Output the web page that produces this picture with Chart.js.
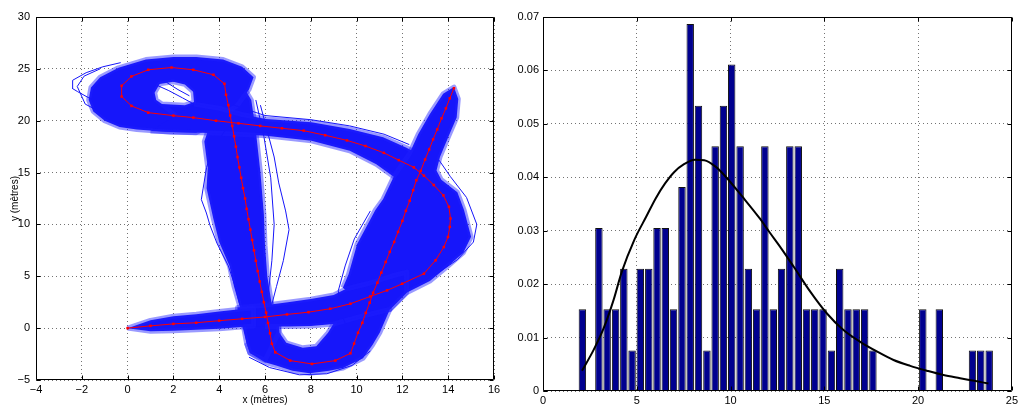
<!DOCTYPE html>
<html>
<head>
<meta charset="utf-8">
<title>Trajectoires et distribution</title>
<script src="https://cdn.jsdelivr.net/npm/chart.js@4.4.1/dist/chart.umd.min.js"></script>
<style>
  html, body { margin: 0; padding: 0; background: #ffffff; }
  #wrap { position: relative; width: 1021px; height: 406px; overflow: hidden; }
  .pane { position: absolute; top: 0; height: 406px; }
</style>
</head>
<body>
<div id="wrap">
  <div class="pane" style="left:0;width:510px"><canvas id="traj" width="510" height="406"></canvas></div>
  <div class="pane" style="left:510px;width:511px"><canvas id="hist" width="511" height="406"></canvas></div>
</div>
<script>
// ---------- Left panel: reference path (metres) ----------
const pathX = [0, 1.0, 2.0, 3.0, 4.0, 5.0, 6.0, 6.96, 7.9, 8.85, 9.73, 10.6, 11.33, 11.99, 12.94, 13.45, 13.81, 13.99, 14.07, 14.1, 14.03, 13.79, 13.37, 12.94, 12.5, 11.84, 11.19, 10.39, 9.58, 8.63, 7.69, 6.74, 5.79, 4.84, 3.86, 2.87, 2.0, 0.9, 0.17, -0.26, -0.26, 0.17, 0.9, 1.92, 2.87, 3.75, 4.23,
  4.3, 4.4, 4.48, 4.57, 4.65, 4.73, 4.8, 4.88, 4.96, 5.04, 5.13, 5.2, 5.28, 5.36, 5.44, 5.52, 5.6, 5.68, 5.77, 5.86, 5.95, 6.05, 6.13, 6.22, 6.3, 6.45,
  7.1, 8.05, 9.07, 9.73,
  9.89, 10.06, 10.25, 10.4, 10.57, 10.72, 10.91, 11.08, 11.27, 11.45, 11.64, 11.81, 12.0, 12.15, 12.32, 12.47, 12.61, 12.8, 12.99, 13.17, 13.34, 13.52, 13.71, 13.9, 14.07, 14.25];
const pathY = [0, 0.22, 0.41, 0.52, 0.72, 0.9, 1.08, 1.32, 1.54, 1.87, 2.35, 3.06, 3.64, 4.28, 5.25, 6.54, 7.82, 8.79, 9.76, 10.57, 11.7, 12.8, 13.8, 14.7, 15.5, 16.2, 16.9, 17.56, 18.1, 18.6, 19.04, 19.27, 19.5, 19.75, 20.0, 20.3, 20.49, 20.78, 21.43, 22.33, 23.37, 24.27, 24.91, 25.13, 24.91, 24.43, 23.56,
  22.5, 21.5, 20.5, 19.5, 18.5, 17.5, 16.5, 15.5, 14.5, 13.5, 12.5, 11.5, 10.5, 9.5, 8.5, 7.5, 6.5, 5.5, 4.5, 3.5, 2.5, 1.5, 0.5, -0.5, -1.5, -2.33,
  -3.13, -3.45, -3.13, -2.43,
  -1.49, -0.45, 0.51, 1.48, 2.45, 3.41, 4.38, 5.35, 6.38, 7.35, 8.31, 9.28, 10.34, 11.31, 12.28, 13.3, 14.26, 15.17, 16.26, 17.23, 18.2, 19.16, 20.23, 21.19, 22.16, 23.13];

// Envelopes of the simulated trajectories, [x, y] in metres
const bandStart = [[0, 0], [1, 0.75], [2, 1.15], [3, 1.35], [4, 1.6], [5, 1.85], [5.5, 1.95], [5.5, 0.2], [4, -0.05], [3, -0.15], [2, -0.25], [1, -0.3], [0, 0]];
const bandBottom = [[4.8, 0.2], [4.8, 2.0], [6, 2.2], [7, 2.5], [8, 2.8], [9, 3.2], [9.5, 3.75], [10.5, 4.3], [11.5, 5.0], [12.2, 5.4], [12.18, 3.41], [11.45, 1.8], [10.3, 1.2], [9, 0.4], [8, 0.2], [7, 0.15], [6, 0.15]];
const bandRight = [[9.4, 3.9], [9.65, 5.2], [10.02, 8.1], [10.82, 11.4], [11.16, 12.44], [11.62, 14.6], [12.3, 16.8], [12.69, 18.7], [13.2, 20.65], [13.78, 22.6], [14.25, 23.25], [14.44, 22.1], [14.37, 20.3], [14.0, 18.4], [13.64, 16.5], [13.49, 15.2], [13.7, 14.3], [14.4, 13.1], [14.69, 11.4], [15.0, 8.8], [14.66, 7.28], [14.0, 6.0], [13.2, 4.54], [12.18, 3.41], [11.45, 1.8], [10.3, 2.3]];
const bandTop = [[2.9, 21.6], [4.0, 21.2], [5.0, 20.6], [6.05, 20.17], [8.03, 19.85], [9.7, 19.2], [11.16, 18.4], [12.18, 17.4], [12.69, 16.8], [12.3, 15.6], [11.62, 14.6], [10.86, 15.8], [9.7, 17.1], [8.03, 18.07], [6.05, 18.56], [4.0, 18.8], [2.0, 18.9], [1.0, 19.0]];
const bandLoopOuter = [[3.0, 18.85], [1.84, 18.9], [0.4, 19.15], [-0.35, 19.4], [-1.0, 20.0], [-1.5, 20.9], [-1.7, 22.0], [-1.6, 23.2], [-1.2, 24.2], [-0.4, 25.1], [0.8, 25.9], [2.0, 26.15], [3.0, 26.15], [4.17, 25.9], [5.0, 25.2], [5.5, 24.2], [5.3, 23.0], [4.8, 21.5], [3.6, 19.6], [3.0, 18.85]];
const bandLoopHole = [[1.5, 21.6], [2.5, 21.5], [2.9, 21.8], [2.86, 22.8], [2.5, 23.5], [2.0, 23.75], [1.4, 23.55], [1.18, 22.7], [1.25, 22.0], [1.5, 21.6]];
const bandDescent = [[4.2, 23.2], [3.6, 19.6], [3.35, 18.0], [3.5, 15.5], [3.45, 13.5], [3.6, 12.0], [3.75, 10.5], [4.0, 8.3], [4.45, 6.0], [4.65, 4.0], [4.9, 2.1], [5.05, 0.3], [5.19, -1.42], [5.34, -2.39], [6.0, -3.1], [6.6, -0.45], [6.6, 0.2], [6.3, 2.2], [6.1, 5], [6.0, 8], [5.95, 11], [5.8, 15], [5.6, 19], [5.4, 22], [5.0, 23.5]];
const bandTurn = [[5.19, -1.42], [5.34, -2.39], [6.0, -3.3], [6.49, -3.6], [7.2, -4.1], [7.95, -4.35], [8.8, -4.1], [9.41, -3.84], [10.28, -2.9], [10.7, -1.6], [11.01, -0.45], [11.45, 1.8], [10.3, 2.3], [9.3, 1.2], [8.97, 0.35], [8.75, -0.45], [8.24, -1.74], [7.65, -1.9], [6.93, -1.42], [6.63, -0.45], [6.6, 0.2], [6.0, 0.3], [5.0, 0.3]];

// A few isolated trajectories outside the dense envelopes
const traceLoopA = [[-1.0, 21.0], [-1.52, 21.99], [-2.18, 22.8], [-2.42, 23.12], [-2.4, 23.9], [-1.81, 24.63], [-1.08, 25.2], [-0.3, 25.6]];
const traceLoopB = [[-0.8, 20.4], [-1.85, 21.6], [-2.2, 23.3], [-1.9, 24.3], [-1.2, 25.0]];
const traceDescL = [[4.3, 19.2], [3.7, 17.2], [3.45, 15.5], [3.3, 13.5], [3.22, 12.4], [3.44, 11.1], [3.6, 9.9], [3.9, 8.2], [4.4, 6.0], [4.7, 4.0], [4.9, 2.2]];
const traceDescR1 = [[5.8, 21.5], [6.1, 19], [6.4, 16.5], [6.6, 14], [6.9, 11.3], [7.05, 9.5], [6.8, 6.5], [6.5, 4], [6.3, 2.3]];
const traceDescR2 = [[5.6, 22], [5.95, 18.5], [6.25, 14.5], [6.4, 10], [6.3, 6.5], [6.15, 3.5]];
const traceHole1 = [[1.3, 23.4], [1.8, 22.9], [2.4, 22.2], [2.9, 21.6]];
const traceHole2 = [[1.7, 23.7], [2.2, 23.0], [2.7, 22.4]];
const traceTopUpper = [[4.5, 21.6], [6, 20.5], [8, 20.1], [9.7, 19.5], [11.2, 18.7], [12.3, 17.7]];
const traceRightOuter = [[13.6, 16.2], [14.1, 14.6], [14.8, 12.6], [15.25, 10.0], [15.1, 8.3], [14.4, 6.6], [13.4, 5.1]];
const traceTurnOuter = [[5.3, -2.8], [6.2, -3.8], [7.5, -4.5], [8.7, -4.4], [9.8, -3.6], [10.6, -2.2]];
const traceUpLeft = [[9.8, -1.0], [9.3, 1.5], [9.2, 3.6], [9.5, 6.0], [9.9, 8.6], [10.6, 11.3]];

// ---------- Right panel: normalised histogram and fitted density ----------
const binCenters = [2.10, 2.54, 2.98, 3.42, 3.87, 4.31, 4.75, 5.19, 5.64, 6.08, 6.52, 6.96, 7.41, 7.85, 8.29, 8.74, 9.18, 9.62, 10.06, 10.51, 10.95, 11.39, 11.83, 12.28, 12.72, 13.16, 13.61, 14.05, 14.49, 14.93, 15.38, 15.82, 16.26, 16.70, 17.15, 17.59, 18.03, 18.48, 18.92, 19.36, 19.80, 20.25, 20.69, 21.13, 21.57, 22.02, 22.46, 22.90, 23.34, 23.79];
const frequency = [0.0153, 0, 0.0305, 0.0153, 0.0153, 0.0229, 0.0076, 0.0229, 0.0229, 0.0305, 0.0305, 0.0153, 0.0382, 0.0687, 0.0534, 0.0076, 0.0458, 0.0534, 0.0611, 0.0458, 0.0229, 0.0153, 0.0458, 0.0153, 0.0229, 0.0458, 0.0458, 0.0153, 0.0153, 0.0153, 0.0076, 0.0229, 0.0153, 0.0153, 0.0153, 0.0076, 0, 0, 0, 0, 0, 0.0153, 0, 0.0153, 0, 0, 0, 0.0076, 0.0076, 0.0076];
const fitX = [2.08, 2.7, 3.23, 3.76, 4.2, 4.87, 5.5, 6.0, 6.5, 7.0, 7.5, 8.1, 8.6, 9.2, 9.72, 10.6, 11.58, 12.06, 12.7, 13.36, 14.25, 15.14, 16.02, 16.91, 17.8, 18.69, 19.58, 20.47, 21.35, 22.24, 23.0, 23.75];
const fitY = [0.0038, 0.0077, 0.0117, 0.0170, 0.0223, 0.0283, 0.0326, 0.0360, 0.0388, 0.0410, 0.0424, 0.0433, 0.0432, 0.0420, 0.0402, 0.0365, 0.0322, 0.0298, 0.0267, 0.0233, 0.0186, 0.0145, 0.0114, 0.0092, 0.0074, 0.0058, 0.0047, 0.0038, 0.0030, 0.0024, 0.0019, 0.0014];

// ---------- helpers ----------
const FONT = "'Liberation Sans', Arial, Helvetica, sans-serif";
const TRACE_BLUE = 'rgb(22,22,250)';
const HALO_BLUE = 'rgba(30,30,255,0.45)';
const toPts = (xs, ys) => xs.map((x, i) => ({ x, y: ys[i] }));
const pairPts = (pairs) => pairs.map(([x, y]) => ({ x, y }));
const minusFmt = (v) => (v < 0 ? '\u2212' + Math.abs(v) : String(v));

// Box around the plotting area with inward tick marks on all four sides
const framePlugin = {
  id: 'frame',
  afterDraw(chart) {
    const { ctx, chartArea: a, scales } = chart;
    const L = Math.round(a.left) + 0.5, R = Math.round(a.right) - 0.5;
    const T = Math.round(a.top) + 0.5, B = Math.round(a.bottom) - 0.5;
    const len = 4;
    ctx.save();
    ctx.strokeStyle = '#000';
    ctx.lineWidth = 1;
    ctx.beginPath();
    ctx.rect(L, T, R - L, B - T);
    for (const t of scales.x.ticks) {
      const px = Math.round(scales.x.getPixelForValue(t.value)) + 0.5;
      ctx.moveTo(px, B); ctx.lineTo(px, B - len);
      ctx.moveTo(px, T); ctx.lineTo(px, T + len);
    }
    for (const t of scales.y.ticks) {
      const py = Math.round(scales.y.getPixelForValue(t.value)) + 0.5;
      ctx.moveTo(L, py); ctx.lineTo(L + len, py);
      ctx.moveTo(R, py); ctx.lineTo(R - len, py);
    }
    ctx.stroke();
    ctx.restore();
  }
};

function gridOpts() {
  return { color: 'rgba(0,0,0,0.55)', lineWidth: 1, drawTicks: false };
}
function borderOpts() {
  return { display: false, dash: [1, 3] };
}

// ---------- left chart ----------
const bandDataset = (pts) => ({
  data: pts, showLine: true, fill: 'shape', tension: 0,
  backgroundColor: TRACE_BLUE, borderColor: HALO_BLUE, borderWidth: 5,
  borderJoinStyle: 'round', pointRadius: 0, order: 2
});
const traceDataset = (pts) => ({
  data: pts, showLine: true, fill: false, tension: 0,
  borderColor: TRACE_BLUE, borderWidth: 1, pointRadius: 0, order: 1
});

new Chart(document.getElementById('traj'), {
  type: 'scatter',
  data: {
    datasets: [
      {
        label: 'Trajectoire de référence',
        data: toPts(pathX, pathY), showLine: true, tension: 0, fill: false,
        borderColor: '#ff0000', borderWidth: 1,
        pointRadius: 1.8, pointStyle: 'rect',
        pointBackgroundColor: '#ff0000', pointBorderWidth: 0, order: 0
      },
      traceDataset(pairPts(traceLoopA)),
      traceDataset(pairPts(traceLoopB)),
      traceDataset(pairPts(traceDescL)),
      traceDataset(pairPts(traceDescR1)),
      traceDataset(pairPts(traceDescR2)),
      traceDataset(pairPts(traceHole1)),
      traceDataset(pairPts(traceHole2)),
      traceDataset(pairPts(traceTopUpper)),
      traceDataset(pairPts(traceRightOuter)),
      traceDataset(pairPts(traceTurnOuter)),
      traceDataset(pairPts(traceUpLeft)),
      bandDataset(pairPts(bandStart)),
      bandDataset(pairPts(bandBottom)),
      bandDataset(pairPts(bandRight)),
      bandDataset(pairPts(bandTop)),
      bandDataset(pairPts(bandLoopOuter.concat(bandLoopHole))),
      bandDataset(pairPts(bandDescent)),
      bandDataset(pairPts(bandTurn))
    ]
  },
  options: {
    responsive: false, animation: false, devicePixelRatio: 1, events: [],
    layout: { padding: { top: 17, right: 16, left: 0, bottom: 0 } },
    plugins: { legend: { display: false }, tooltip: { enabled: false } },
    scales: {
      x: {
        type: 'linear', min: -4, max: 16,
        grid: gridOpts(), border: borderOpts(),
        ticks: { stepSize: 2, autoSkip: false, maxRotation: 0, padding: 3,
                 color: '#000', font: { family: FONT, size: 11 }, callback: minusFmt },
        title: { display: true, text: 'x (mètres)', color: '#000',
                 font: { family: FONT, size: 10 }, padding: { top: 0, bottom: 0 } },
        afterFit: (s) => { s.height = 26; }
      },
      y: {
        type: 'linear', min: -5, max: 30,
        grid: gridOpts(), border: borderOpts(),
        ticks: { stepSize: 5, autoSkip: false, padding: 6,
                 color: '#000', font: { family: FONT, size: 11 }, callback: minusFmt },
        title: { display: true, text: 'y (mètres)', color: '#000',
                 font: { family: FONT, size: 10 }, padding: { top: 9, bottom: 0 } },
        afterFit: (s) => { s.width = 36; }
      }
    }
  },
  plugins: [framePlugin]
});

// ---------- right chart ----------
new Chart(document.getElementById('hist'), {
  type: 'bar',
  data: {
    datasets: [
      {
        type: 'line', label: 'Densité ajustée',
        data: toPts(fitX, fitY), borderColor: '#000', borderWidth: 2,
        pointRadius: 0, fill: false, cubicInterpolationMode: 'monotone', order: 0
      },
      {
        type: 'bar', label: 'Fréquence',
        data: toPts(binCenters, frequency),
        backgroundColor: '#00008f', borderColor: '#111', borderWidth: 1,
        barPercentage: 0.9, categoryPercentage: 1.0, order: 1
      }
    ]
  },
  options: {
    responsive: false, animation: false, devicePixelRatio: 1, events: [],
    layout: { padding: { top: 17, right: 9, left: 0, bottom: 0 } },
    plugins: { legend: { display: false }, tooltip: { enabled: false } },
    scales: {
      x: {
        type: 'linear', min: 0, max: 25, offset: false,
        grid: Object.assign(gridOpts(), { offset: false }), border: borderOpts(),
        ticks: { stepSize: 5, autoSkip: false, maxRotation: 0, padding: 3,
                 color: '#000', font: { family: FONT, size: 11 } },
        afterFit: (s) => { s.height = 15; }
      },
      y: {
        type: 'linear', min: 0, max: 0.07,
        grid: gridOpts(), border: borderOpts(),
        ticks: { stepSize: 0.01, autoSkip: false, padding: 4,
                 color: '#000', font: { family: FONT, size: 11 },
                 callback: (v) => (Math.abs(v) < 1e-9 ? '0' : v.toFixed(2)) },
        afterFit: (s) => { s.width = 33; }
      }
    }
  },
  plugins: [framePlugin]
});
</script>
</body>
</html>
